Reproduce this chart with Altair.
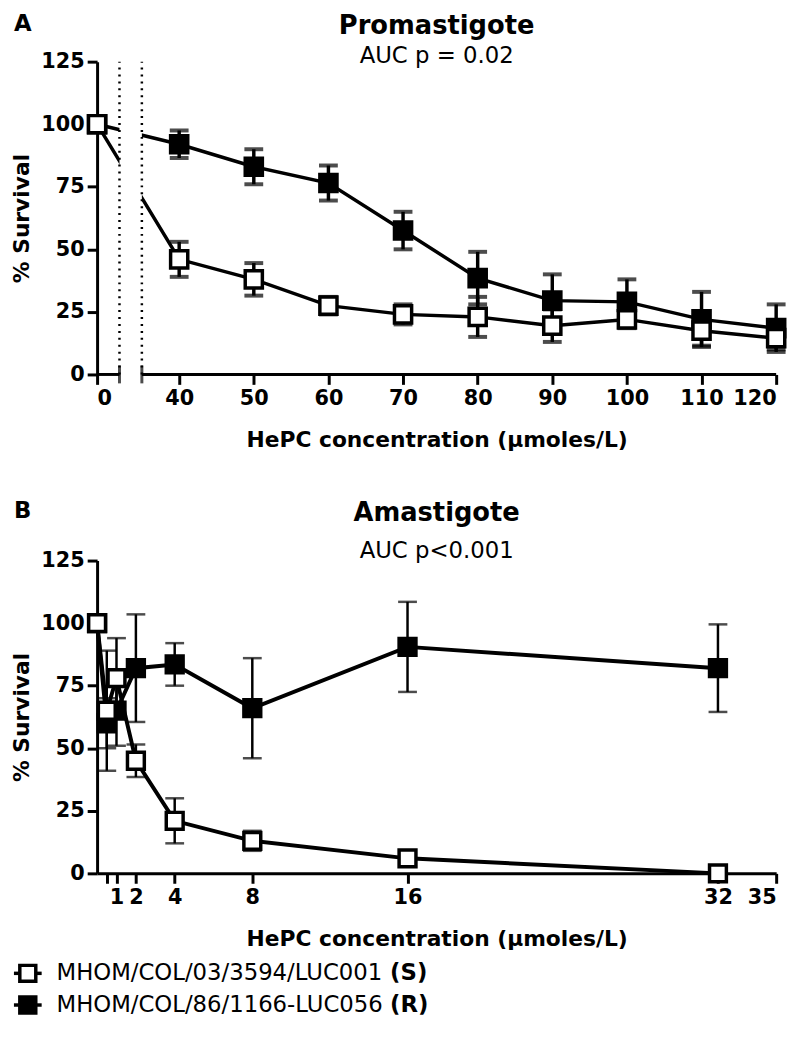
import altair as alt
import pandas as pd

# ---------------- data ----------------
# Panel A: Promastigote
A_CONC = [0, 40, 50, 60, 70, 80, 90, 100, 110, 120]
A_S_MEAN = [100, 46, 38, 27.5, 24, 23, 19.5, 22, 17.5, 14.5]
A_S_ERR = [0, 7, 6.5, 3.5, 4, 8, 6.5, 3.5, 6, 4.5]
A_R_MEAN = [100, 92, 83, 76.5, 57.5, 38.5, 29.5, 29, 22, 18.5]
A_R_ERR = [0, 5.5, 7, 7, 7.5, 10.5, 10.5, 9, 11, 9.5]

# Panel B: Amastigote
B_CONC = [0, 0.5, 1, 2, 4, 8, 16, 32]
B_S_MEAN = [100, 65, 78, 45, 21, 13, 6, 0]
B_S_ERR = [0, 24, 16, 6.5, 9, 4, 0, 0]
B_R_MEAN = [100, 60, 65, 82, 83.5, 66, 90.5, 82]
B_R_ERR = [0, 10, 14, 21.5, 8.5, 20, 18, 17.5]

A_XTICKS = [0, 40, 50, 60, 70, 80, 90, 100, 110, 120]
B_XTICKS = [0.5, 1, 2, 4, 8, 16, 32, 35]
Y_TICKS = [0, 25, 50, 75, 100, 125]

A_TITLE, A_SUB = "Promastigote", "AUC p = 0.02"
B_TITLE, B_SUB = "Amastigote", "AUC p<0.001"
X_TITLE = "HePC concentration (µmoles/L)"
Y_TITLE = "% Survival"

LEGEND_NAMES = ["MHOM/COL/03/3594/LUC001", "MHOM/COL/86/1166-LUC056"]
LEGEND_TAGS = ["(S)", "(R)"]
LEGEND_STRAINS = ["S", "R"]

# axis break for panel A (display units): 0 is drawn at ZERO_POS
ZERO_POS = 29
BREAK_LO, BREAK_HI = 32, 35

FONT = "DejaVu Sans"
FILL_SCALE = alt.Scale(domain=["R", "S"], range=["black", "white"])


def long_df(conc, s_mean, s_err, r_mean, r_err):
    rows = []
    for strain, means, errs in (("R", r_mean, r_err), ("S", s_mean, s_err)):
        for c, m, e in zip(conc, means, errs):
            rows.append({"conc": c, "strain": strain, "mean": m,
                         "lo": m - e, "hi": m + e})
    return pd.DataFrame(rows)


df_a = long_df(A_CONC, A_S_MEAN, A_S_ERR, A_R_MEAN, A_R_ERR)
df_b = long_df(B_CONC, B_S_MEAN, B_S_ERR, B_R_MEAN, B_R_ERR)

W, H = 686, 316


def y_enc(field):
    return alt.Y(field, scale=alt.Scale(domain=[0, 125], nice=False, zero=False),
                 axis=alt.Axis(values=Y_TICKS, title=Y_TITLE))


def header(label, ttl, sub, lab_y, ttl_y, sub_y):
    df = pd.DataFrame({"t": [label]})
    lab = alt.Chart(df).mark_text(
        font=FONT, fontSize=23, fontWeight="bold", align="left", baseline="alphabetic",
        color="black").encode(text=alt.value(label), x=alt.value(-84), y=alt.value(lab_y))
    t = alt.Chart(df).mark_text(
        font=FONT, fontSize=26, fontWeight="bold", align="center", baseline="alphabetic",
        color="black").encode(text=alt.value(ttl), x=alt.value(W / 2), y=alt.value(ttl_y))
    s = alt.Chart(df).mark_text(
        font=FONT, fontSize=23, align="center", baseline="alphabetic",
        color="black").encode(text=alt.value(sub), x=alt.value(W / 2), y=alt.value(sub_y))
    return [lab, t, s]


# ---------------- panel A ----------------
a_tick_disp = [ZERO_POS if v == 0 else v for v in A_XTICKS]
xa_scale = alt.Scale(domain=[ZERO_POS, 120], nice=False, zero=False)
xa = alt.X("xd:Q", scale=xa_scale,
           axis=alt.Axis(values=a_tick_disp, domain=False,
                         labelExpr=f"datum.value == {ZERO_POS} ? '0' : datum.label",
                         title=X_TITLE))
base_a = alt.Chart(df_a).transform_calculate(
    xd=f"datum.conc == 0 ? {ZERO_POS} : datum.conc")

a_lines = base_a.mark_line(color="black", strokeWidth=3.5).encode(
    x=xa, y=y_enc("mean:Q"), detail="strain:N")
a_gap = alt.Chart(pd.DataFrame({"x1": [BREAK_LO], "x2": [BREAK_HI]})).mark_rect(
    color="white").encode(x=alt.X("x1:Q", scale=xa_scale), x2="x2:Q",
                          y=alt.datum(0), y2=alt.datum(125))
a_dots = alt.Chart(pd.DataFrame({"b": [BREAK_LO, BREAK_HI]})).mark_rule(
    color="black", strokeWidth=2.5, strokeDash=[2, 5]).encode(
    x="b:Q", y=alt.datum(0), y2=alt.datum(125))
a_domain = alt.Chart(pd.DataFrame({"x1": [ZERO_POS, BREAK_HI], "x2": [BREAK_LO, 120]})).mark_rule(
    color="black", strokeWidth=3).encode(x="x1:Q", x2="x2:Q", y=alt.datum(0))
a_caps_axis = alt.Chart(pd.DataFrame({"b": [BREAK_LO, BREAK_HI]})).mark_tick(
    color="black", orient="vertical", size=18, thickness=3).encode(
    x="b:Q", y=alt.datum(0))
a_err = base_a.transform_filter("datum.hi > datum.lo").mark_rule(
    color="black", strokeWidth=3.5).encode(x="xd:Q", y=y_enc("lo:Q"), y2="hi:Q")
a_cap_lo = base_a.transform_filter("datum.hi > datum.lo").mark_tick(
    color="black", orient="horizontal", size=19, thickness=4).encode(
    x="xd:Q", y=y_enc("lo:Q"))
a_cap_hi = base_a.transform_filter("datum.hi > datum.lo").mark_tick(
    color="black", orient="horizontal", size=19, thickness=4).encode(
    x="xd:Q", y=y_enc("hi:Q"))
a_pts = base_a.mark_square(size=300, stroke="black", strokeWidth=3.5, opacity=1).encode(
    x="xd:Q", y=y_enc("mean:Q"),
    fill=alt.Fill("strain:N", scale=FILL_SCALE, legend=None))

panel_a = alt.layer(a_lines, a_gap, a_dots, a_domain, a_caps_axis, a_err, a_cap_lo,
                    a_cap_hi, a_pts, *header("A", A_TITLE, A_SUB, -31, -28, 1)).properties(
    width=W, height=H)

# ---------------- panel B ----------------
xb = alt.X("conc:Q", scale=alt.Scale(domain=[0, 35], nice=False, zero=False),
           axis=alt.Axis(values=B_XTICKS,
                         labelExpr="datum.value == 0.5 ? '' : datum.label",
                         title=X_TITLE))
base_b = alt.Chart(df_b)
b_lines = base_b.mark_line(color="black", strokeWidth=4).encode(
    x=xb, y=y_enc("mean:Q"), detail="strain:N")
b_err = base_b.transform_filter("datum.hi > datum.lo").mark_rule(
    color="black", strokeWidth=2.5).encode(x="conc:Q", y=y_enc("lo:Q"), y2="hi:Q")
b_cap_lo = base_b.transform_filter("datum.hi > datum.lo").mark_tick(
    color="black", orient="horizontal", size=19, thickness=2.5).encode(
    x="conc:Q", y=y_enc("lo:Q"))
b_cap_hi = base_b.transform_filter("datum.hi > datum.lo").mark_tick(
    color="black", orient="horizontal", size=19, thickness=2.5).encode(
    x="conc:Q", y=y_enc("hi:Q"))
b_pts = base_b.mark_square(size=290, stroke="black", strokeWidth=3.5, opacity=1).encode(
    x="conc:Q", y=y_enc("mean:Q"),
    fill=alt.Fill("strain:N", scale=FILL_SCALE, legend=None))

panel_b = alt.layer(b_lines, b_err, b_cap_lo, b_cap_hi, b_pts,
                    *header("B", B_TITLE, B_SUB, -43, -40, -3)).properties(
    width=W, height=H)

# ---------------- legend ----------------
leg_df = pd.DataFrame({"idx": [0, 1], "name": LEGEND_NAMES, "tag": LEGEND_TAGS,
                       "strain": LEGEND_STRAINS})
leg_y = alt.Y("idx:Q", scale=alt.Scale(domain=[0, 1], reverse=True), axis=None)
leg_base = alt.Chart(leg_df)
leg_line = leg_base.mark_rule(color="black", strokeWidth=3.5).encode(
    x=alt.value(-84), x2=alt.value(-56), y=leg_y)
leg_sq = leg_base.mark_square(size=260, stroke="black", strokeWidth=3.5, opacity=1).encode(
    x=alt.value(-70), y=leg_y, fill=alt.Fill("strain:N", scale=FILL_SCALE, legend=None))
leg_name = leg_base.mark_text(font=FONT, fontSize=23, align="left", baseline="middle",
                              color="black").encode(x=alt.value(-41), y=leg_y, text="name:N")
leg_tag = leg_base.mark_text(font=FONT, fontSize=23, fontWeight="bold", align="left",
                             baseline="middle", color="black").encode(
    x=alt.value(296), y=leg_y, text="tag:N")
legend = alt.layer(leg_line, leg_sq, leg_name, leg_tag).properties(width=W, height=32)

panels = alt.vconcat(panel_a, panel_b, spacing=50)
chart = alt.vconcat(panels, legend, spacing=8).properties(
    padding={"left": 3, "top": 0, "right": 0, "bottom": 0}
).configure_view(stroke=None).configure_axis(
    grid=False, domainColor="black", domainWidth=3, tickColor="black", tickWidth=3,
    tickSize=10, labelFont=FONT, labelFontSize=21, labelFontWeight="bold",
    labelColor="black", labelPadding=3, titleFont=FONT, titleFontSize=22,
    titleFontWeight="bold", titleColor="black"
).configure_axisX(titlePadding=22).configure_axisY(titlePadding=7)

chart.save("out.html", embed_options={"renderer": "svg", "actions": False})
